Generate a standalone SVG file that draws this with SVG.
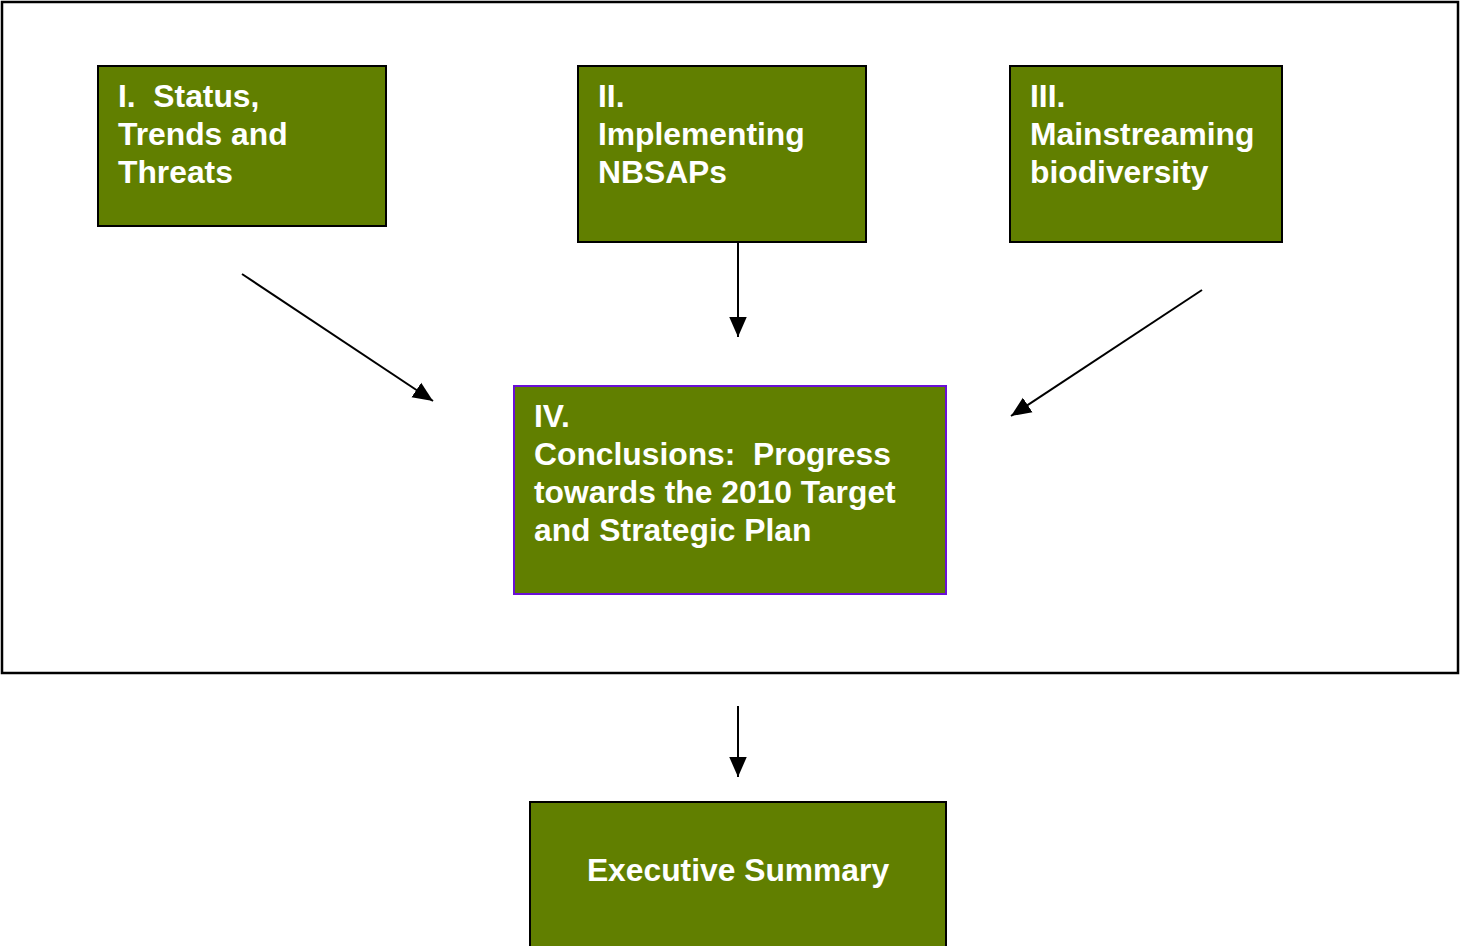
<svg xmlns="http://www.w3.org/2000/svg" width="1460" height="946" viewBox="0 0 1460 946">
<style>
.box{fill:#617F00;stroke:#000;stroke-width:2}
.t{font-family:"Liberation Sans",Arial,sans-serif;font-weight:bold;font-size:31.8px;fill:#fff;white-space:pre}
.c{stroke:#000;stroke-width:2;fill:none}
</style>
<defs>
<marker id="ah" markerUnits="userSpaceOnUse" markerWidth="20" markerHeight="20" viewBox="0 0 16 14" refX="16" refY="7" orient="auto">
<path d="M0,0 L16,7 L0,14 Z" fill="#000"/>
</marker>
</defs>
<rect x="0" y="0" width="1460" height="946" fill="#fff"/>
<rect id="frame" x="2" y="2" width="1456" height="671" fill="none" stroke="#000" stroke-width="2.5"/>
<g id="node-I">
<rect class="box" x="98" y="66" width="288" height="160"/>
<text class="t" x="118" y="107">I.  Status,</text>
<text class="t" x="118" y="145">Trends and</text>
<text class="t" x="118" y="183">Threats</text>
</g>
<g id="node-II">
<rect class="box" x="578" y="66" width="288" height="176"/>
<text class="t" x="598" y="107">II.</text>
<text class="t" x="598" y="145">Implementing</text>
<text class="t" x="598" y="183">NBSAPs</text>
</g>
<g id="node-III">
<rect class="box" x="1010" y="66" width="272" height="176"/>
<text class="t" x="1030" y="107">III.</text>
<text class="t" x="1030" y="145">Mainstreaming</text>
<text class="t" x="1030" y="183">biodiversity</text>
</g>
<g id="node-IV">
<rect class="box" x="514" y="386" width="432" height="208" style="stroke:#6A0FD6"/>
<text class="t" x="534" y="427">IV.</text>
<text class="t" x="534" y="465">Conclusions:  Progress</text>
<text class="t" x="534" y="503">towards the 2010 Target</text>
<text class="t" x="534" y="541">and Strategic Plan</text>
</g>
<g id="node-exec">
<rect class="box" x="530" y="802" width="416" height="150"/>
<text class="t" x="738" y="881" text-anchor="middle">Executive Summary</text>
</g>
<g id="connectors">
<line class="c" x1="242" y1="274" x2="433" y2="401" marker-end="url(#ah)"/>
<line class="c" x1="738" y1="242" x2="738" y2="337" marker-end="url(#ah)"/>
<line class="c" x1="1202" y1="290" x2="1011" y2="416" marker-end="url(#ah)"/>
<line class="c" x1="738" y1="706" x2="738" y2="777" marker-end="url(#ah)"/>
</g>
</svg>
